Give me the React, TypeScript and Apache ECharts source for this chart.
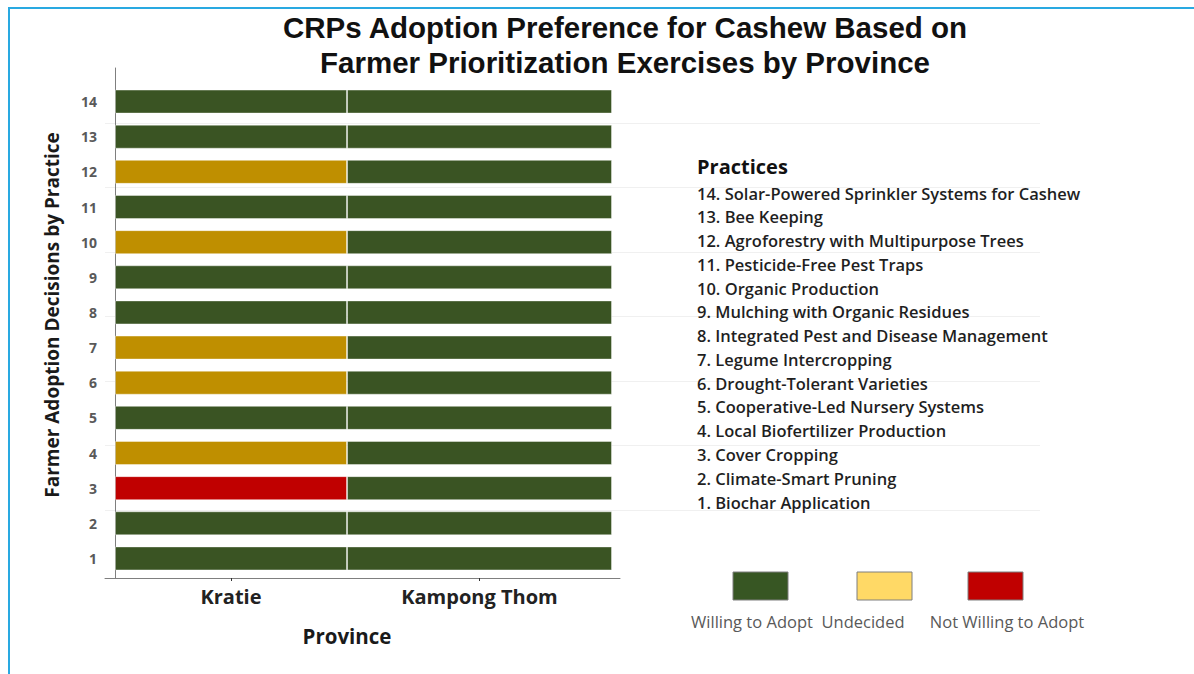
import React, { useEffect, useRef } from "react";
import * as echarts from "echarts";

// ---- data ----
const practiceNumbers = ["1", "2", "3", "4", "5", "6", "7", "8", "9", "10", "11", "12", "13", "14"];
const practiceNames = [
  "Biochar Application",
  "Climate-Smart Pruning",
  "Cover Cropping",
  "Local Biofertilizer Production",
  "Cooperative-Led Nursery Systems",
  "Drought-Tolerant Varieties",
  "Legume Intercropping",
  "Integrated Pest and Disease Management",
  "Mulching with Organic Residues",
  "Organic Production",
  "Pesticide-Free Pest Traps",
  "Agroforestry with Multipurpose Trees",
  "Bee Keeping",
  "Solar-Powered Sprinkler Systems for Cashew",
];
const provinces = ["Kratie", "Kampong Thom"];
// W = Willing to Adopt, U = Undecided, N = Not Willing to Adopt (practice 1 .. 14)
const kratieStatus = ["W", "W", "N", "U", "W", "U", "U", "W", "W", "U", "W", "U", "W", "W"];
const kampongThomStatus = ["W", "W", "W", "W", "W", "W", "W", "W", "W", "W", "W", "W", "W", "W"];
const statusKeys = ["W", "U", "N"];
const statusLabels = ["Willing to Adopt", "Undecided", "Not Willing to Adopt"];

// ---- styles ----
const barColors: Record<string, string> = { W: "#3a5423", U: "#bf8f00", N: "#c00000" };
const legendColors: Record<string, string> = { W: "#375623", U: "#ffd966", N: "#c00000" };
const KAMPONG_SPAN = 1.142; // relative drawn width of the Kampong Thom column
const PX_PER_UNIT = 232;
const FONT = "'Open Sans', Lato, sans-serif";

export default function App() {
  const ref = useRef<HTMLDivElement>(null);
  useEffect(() => {
    if (!ref.current) return;
    const chart = echarts.init(ref.current, undefined, { renderer: "svg" });

    const mkData = (st: string[], v: number) =>
      st.map((s) => ({ value: v, itemStyle: { color: barColors[s] } }));

    const legendBoxX = [733, 857, 968];
    const legendTextX = [752, 863, 1007];

    const graphics: any[] = [
      {
        type: "rect",
        z: 100,
        shape: { x: 9, y: 8, width: 1400, height: 900 },
        style: { fill: "none", stroke: "#29a9e1", lineWidth: 2 },
        silent: true,
      },
      {
        type: "text",
        z: 100,
        x: 625,
        y: 45,
        style: {
          text: "CRPs Adoption Preference for Cashew Based on\nFarmer Prioritization Exercises by Province",
          align: "center",
          verticalAlign: "middle",
          font: "bold 29.5px 'Liberation Sans', Arial, sans-serif",
          lineHeight: 35,
          fill: "#111111",
        },
      },
      {
        type: "text",
        z: 100,
        x: 52,
        y: 315,
        rotation: Math.PI / 2,
        style: {
          text: "Farmer Adoption Decisions by Practice",
          align: "center",
          verticalAlign: "middle",
          font: `bold 19px ${FONT}`,
          fill: "#1a1a1a",
        },
      },
      {
        type: "text",
        z: 100,
        x: 347,
        y: 636,
        style: {
          text: "Province",
          align: "center",
          verticalAlign: "middle",
          font: `bold 20.5px ${FONT}`,
          fill: "#1a1a1a",
        },
      },
      {
        type: "text",
        z: 100,
        x: 697,
        y: 166,
        style: {
          text: "Practices",
          align: "left",
          verticalAlign: "middle",
          font: `bold 20px ${FONT}`,
          fill: "#111111",
        },
      },
    ];

    for (let i = practiceNames.length - 1; i >= 0; i--) {
      const row = practiceNames.length - 1 - i;
      graphics.push({
        type: "text",
        z: 100,
        x: 697,
        y: 193 + row * 23.77,
        style: {
          text: `${practiceNumbers[i]}. ${practiceNames[i]}`,
          align: "left",
          verticalAlign: "middle",
          font: `600 16.5px ${FONT}`,
          fill: "#1f1f1f",
          backgroundColor: "transparent",
        },
      });
    }

    statusKeys.forEach((k, i) => {
      graphics.push({
        type: "rect",
        z: 100,
        shape: { x: legendBoxX[i], y: 572, width: 55, height: 28 },
        style: { fill: legendColors[k], stroke: "#7f7f7f", lineWidth: 1 },
      });
      graphics.push({
        type: "text",
        z: 100,
        x: legendTextX[i],
        y: 621,
        style: {
          text: statusLabels[i],
          align: "center",
          verticalAlign: "middle",
          font: `16.5px ${FONT}`,
          fill: "#595959",
        },
      });
    });

    const option: any = {
      animation: false,
      backgroundColor: "#ffffff",
      grid: [
        { left: 115, top: 84, width: 497, height: 492 },
        { left: 105, top: 68, width: 515, height: 510 },
        { left: 105, top: 123, width: 935, height: 387 },
      ],
      xAxis: [
        { gridIndex: 0, type: "value", min: 0, max: 1 + KAMPONG_SPAN, show: false },
        {
          gridIndex: 1,
          type: "value",
          min: -10 / PX_PER_UNIT,
          max: 505 / PX_PER_UNIT,
          axisLine: { show: true, lineStyle: { color: "#7f7f7f", width: 1 } },
          splitLine: { show: false },
          axisTick: {
            show: true,
            length: 3,
            customValues: [0.5, 1 + KAMPONG_SPAN / 2],
            lineStyle: { color: "#333333" },
          },
          axisLabel: {
            show: true,
            customValues: [0.5, 1 + KAMPONG_SPAN / 2],
            formatter: (v: number) => (v < 1 ? provinces[0] : provinces[1]),
            margin: 8,
            fontFamily: FONT,
            fontWeight: "bold",
            fontSize: 20,
            color: "#222222",
          },
        },
        { gridIndex: 2, type: "value", min: 0, max: 1, show: false },
      ],
      yAxis: [
        {
          gridIndex: 0,
          type: "category",
          data: practiceNumbers,
          axisLine: { show: false },
          axisTick: { show: false },
          splitLine: { show: false },
          axisLabel: {
            margin: 18,
            fontFamily: FONT,
            fontWeight: "bold",
            fontSize: 14,
            color: "#595959",
          },
        },
        {
          gridIndex: 1,
          type: "value",
          min: 0,
          max: 1,
          axisLine: { show: true, lineStyle: { color: "#7f7f7f", width: 1 } },
          axisTick: { show: false },
          axisLabel: { show: false },
          splitLine: { show: false },
        },
        {
          gridIndex: 2,
          type: "value",
          min: 0,
          max: 6,
          interval: 1,
          z: -1,
          axisLine: { show: false },
          axisTick: { show: false },
          axisLabel: { show: false },
          splitLine: { show: true, lineStyle: { color: "#f0f0f0", width: 1 } },
        },
      ],
      series: [
        {
          name: provinces[0],
          type: "bar",
          stack: "prov",
          xAxisIndex: 0,
          yAxisIndex: 0,
          barWidth: 24,
          itemStyle: { borderColor: "rgba(255,255,255,0.4)", borderWidth: 1 },
          data: mkData(kratieStatus, 1),
        },
        {
          name: provinces[1],
          type: "bar",
          stack: "prov",
          xAxisIndex: 0,
          yAxisIndex: 0,
          barWidth: 24,
          itemStyle: { borderColor: "rgba(255,255,255,0.4)", borderWidth: 1 },
          data: mkData(kampongThomStatus, KAMPONG_SPAN),
        },
      ],
      graphic: { elements: graphics },
    };

    chart.setOption(option);
    return () => chart.dispose();
  }, []);

  return (
    <div
      ref={ref}
      style={{ position: "fixed", left: 0, top: 0, width: 1194, height: 674, background: "#fff" }}
    />
  );
}
